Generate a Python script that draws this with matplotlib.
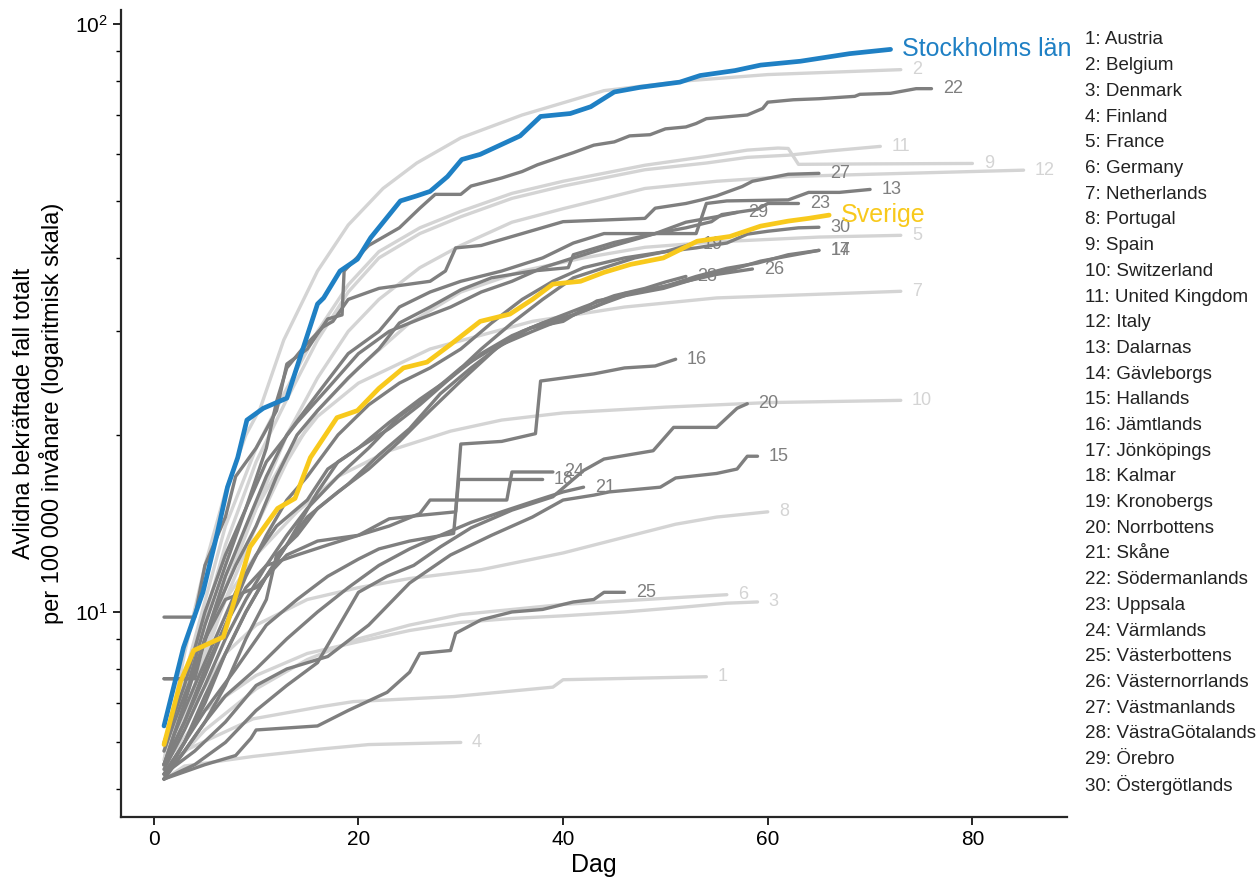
"""Avlidna per 100 000 invånare: länder och svenska län (log-skala)."""
import matplotlib
matplotlib.use("Agg")
import matplotlib.pyplot as plt
import numpy as np

# ---- data: (dag, avlidna per 100 000) ----
austria = [(1, 5.47), (3.3, 5.84), (6.5, 6.2), (9.7, 6.58), (16.3, 6.9), (19.5, 7.04), (29.3, 7.18),
           (39, 7.45), (40, 7.67), (54, 7.76)]
belgium = [(1, 5.6), (3, 8.5), (5, 12), (7, 16), (9, 20), (10.4, 22.2), (12.7, 29), (16, 38), (19, 45.5),
           (22.4, 52.5), (25.7, 58), (30, 64), (36, 70), (44, 77), (52, 80), (60, 82), (73, 83.6)]
denmark = [(1, 5.5), (5, 6.8), (10, 7.8), (15, 8.5), (20, 8.9), (25, 9.3), (30, 9.6), (35, 9.75), (40, 9.85),
           (46, 10.0), (52, 10.2), (56, 10.35), (59, 10.4)]
finland = [(1, 5.19), (3, 5.47), (9.7, 5.68), (16, 5.84), (21, 5.95), (30, 6.0)]
france = [(1, 5.4), (4, 7.5), (7, 10.5), (10, 14), (13, 18), (16, 22), (20, 26), (25, 31), (30, 35), (36, 38),
          (42, 40), (48, 41.7), (55, 42.6), (65, 43.4), (73, 43.7)]
germany = [(1, 5.3), (5, 6.3), (10, 7.4), (15, 8.3), (20, 9.0), (25, 9.5), (30, 9.9), (40, 10.3), (50, 10.55),
           (56, 10.7)]
netherlands = [(1, 5.5), (4, 8), (7, 11.5), (10, 15), (13, 18.5), (16, 21.5), (20, 24.5), (27, 28), (37, 31.2),
               (46, 33), (55, 34.2), (73, 35.1)]
portugal = [(1, 5.5), (4, 7), (7, 8.5), (10, 9.5), (15, 10.5), (20, 11.0), (25, 11.4), (32, 11.8), (40, 12.6),
            (46, 13.4), (51, 14.1), (55, 14.5), (60, 14.8)]
spain = [(1, 5.8), (4, 9), (7, 14), (10, 19), (13, 24), (16, 30), (19, 36), (22, 41), (26, 45), (30, 48),
         (35, 51.5), (40, 54), (48, 57.5), (54, 59.5), (58, 61), (61, 61.5), (62, 61.4), (63, 57.7), (70, 57.8),
         (80, 57.9)]
switzerland = [(1, 5.5), (4, 8), (7, 10.5), (10, 12.5), (14, 14.8), (18, 17), (23, 18.8), (29, 20.3),
               (34, 21.2), (40, 21.8), (50, 22.3), (60, 22.7), (73, 22.9)]
uk = [(1, 5.5), (4, 8.5), (7, 13), (10, 18), (13, 23), (16, 29), (19, 35), (22, 40), (26, 44), (30, 47),
      (35, 50.5), (40, 53), (48, 56.5), (54, 58), (58, 59.3), (62, 59.8), (66, 60.8), (71, 61.9)]
italy = [(1, 5.5), (4, 7.5), (7, 11), (10, 15), (13, 20), (16, 25), (19, 30), (22, 34), (26, 38.5), (30, 42),
         (35, 46), (40, 48.5), (48, 52.5), (55, 54), (62, 55), (70, 55.5), (85, 56.4)]

dalarna = [(1, 5.5), (3, 7), (5, 9), (7, 11.5), (9, 14), (11, 17), (13, 20), (16, 23.5), (19, 27.5), (22, 30),
           (24, 33), (27, 35), (30, 36.5), (34, 38), (38, 40), (41, 42.4), (44, 44), (53, 44), (54, 49.5),
           (56, 50), (62, 50.2), (64, 51.7), (67, 51.7), (70, 52.3)]
gavleborg = [(1, 5.2), (3, 6), (5, 7.2), (7, 8.5), (9, 10), (11, 11.5), (13, 13), (15, 14.5), (18, 16),
             (21, 17.5), (24, 19.5), (27, 22), (30, 24.7), (33.5, 28.1), (36.8, 30.4), (40, 31.2), (43.3, 33.8),
             (46, 34.5), (49.8, 35.5), (53, 36.9), (56, 38), (59.3, 39.5), (62, 40.3), (65, 41.2)]
halland = [(1, 5.3), (4, 5.8), (7, 6.5), (10, 7.5), (13, 8.0), (17, 8.4), (21, 9.5), (25, 11.2), (29, 12.5),
           (33, 13.5), (37, 14.5), (40, 15.5), (43, 15.8), (44.5, 16.0), (49.5, 16.3), (51, 16.9), (55, 17.2),
           (57, 17.5), (58, 18.4), (59, 18.4)]
jamtland = [(1, 7.7), (4, 7.7), (5, 9), (7, 10.5), (10, 11), (13, 12.5), (16, 13.2), (20, 13.5), (23, 14.4),
            (26, 14.6), (29.5, 14.8), (30, 19.3), (34, 19.5), (37.3, 20.1), (37.8, 24.7), (43, 25.4), (46, 26),
            (49, 26.2), (51, 26.9)]
jonkoping = [(1, 5.5), (2, 6.2), (4, 7.5), (6, 9), (8, 10.8), (10, 12.5), (12, 14), (15, 15.5), (17, 17.5),
             (20, 19), (23, 20.5), (26, 22.5), (29, 25), (32, 27.5), (35, 29.5), (38, 31), (41, 32), (44, 33.5),
             (47, 35), (50, 35.8), (53, 37.2), (56, 38.4), (59, 39.2), (62, 40.5), (65, 41.2)]
kalmar = [(1, 5.3), (3, 6), (5, 6.8), (8, 8), (11, 9.5), (14, 10.5), (17, 11.5), (20, 12.3), (22, 12.8),
          (25, 13.2), (29.3, 13.6), (29.8, 16.8), (38, 16.8)]
kronoberg = [(1, 5.3), (3, 6), (5, 7), (7, 8.5), (9, 10), (11, 11.5), (13, 13), (16, 16), (18, 18), (20, 19),
             (23, 21), (26, 23), (29, 25), (32, 28), (35, 31), (38, 34), (41, 37), (44, 38.5), (47, 40),
             (50, 41), (52.5, 42.2)]
norrbotten = [(1, 5.2), (4, 5.5), (7, 6), (10, 6.8), (13, 7.5), (16, 8.2), (20, 10.8), (22.8, 11.5),
              (25.4, 12), (28, 12.9), (31, 13.9), (35, 14.9), (39, 15.7), (42, 17.4), (44, 18.2), (48.8, 18.8),
              (50.8, 20.6), (55, 20.6), (57, 22.2), (58, 22.6)]
skane = [(1, 5.2), (3, 5.8), (5, 6.5), (7, 7.2), (10, 8), (13, 9), (16, 10), (19, 11), (22, 12), (25, 12.8),
         (28, 13.5), (31, 14.2), (34, 14.8), (37, 15.4), (40, 16), (42, 16.3)]
sodermanland = [(1, 9.8), (4, 9.8), (5, 12), (7, 14.5), (8, 17), (10, 19), (12, 22), (13, 26.4), (15, 28),
                (17, 31.5), (18.4, 32), (18.6, 38), (21, 42), (24, 45), (26, 48.6), (27.5, 51.3), (30, 51.3),
                (31, 53), (34, 54.7), (36, 56.1), (37.5, 57.6), (40, 59.6), (41, 60.4), (43, 62.2), (45, 63),
                (46.5, 64.5), (48.5, 64.8), (50, 66.3), (52, 66.8), (53, 67.7), (54, 69), (58, 70),
                (59.5, 71.8), (60, 73.6), (62.5, 74.3), (65, 74.6), (68.5, 75.3), (69, 75.9), (72, 76.2),
                (74.5, 77.6), (76, 77.6)]
uppsala = [(1, 6), (3, 7.5), (5, 10), (7, 12.5), (9, 15), (11, 18), (14, 21), (17, 24), (20, 27.5), (23, 30),
           (26, 31.5), (29, 33), (32, 35), (35, 36.5), (38, 38.5), (41, 40), (45, 42), (49, 44), (52, 45),
           (54.5, 46.1), (55.5, 47.4), (59, 48.4), (60, 49.5), (63, 49.5)]
varmland = [(1, 5.5), (3, 6.5), (5, 8), (7, 9.5), (9, 11), (11, 12), (14, 12.5), (17, 13), (20, 13.5),
            (23, 14), (26, 14.7), (27, 15.5), (34.5, 15.5), (35, 17.3), (39, 17.3)]
vasterbotten = [(1, 5.2), (5, 5.5), (8, 5.7), (9.5, 6.1), (10, 6.3), (16, 6.4), (19, 6.8), (22.8, 7.3),
                (25, 7.9), (26, 8.5), (29, 8.6), (29.5, 9.2), (32, 9.7), (35, 10), (38, 10.1), (41, 10.4),
                (43, 10.5), (44, 10.8), (46, 10.8)]
vasternorrland = [(1, 5.2), (3, 5.8), (5, 6.5), (7, 7.5), (9, 9), (11, 10.5), (12, 12.5), (14, 13.5),
                  (16, 15), (19, 16.5), (22, 18.5), (25, 20.5), (28, 23.5), (31, 26), (34, 28.5), (37, 30),
                  (40, 31.5), (43, 33), (46, 34.8), (49, 35.5), (52, 36.5), (55, 37.5), (58.5, 38.3)]
vastmanland = [(1, 7.7), (3.5, 7.7), (5, 9.5), (7, 12), (9, 15), (11, 19), (12, 22.8), (13, 26), (14.5, 28),
               (16.5, 30.5), (17.5, 31.2), (19, 34), (22, 35.5), (25, 36.1), (27, 36.5), (28.5, 38),
               (29.5, 41.6), (32, 42), (36, 44), (40, 46.1), (48, 46.7), (49, 48.6), (52, 49.5), (53.5, 50.2),
               (55, 51), (57.5, 52.9), (58.5, 54), (62, 55.5), (65, 55.7)]
vastra_gotaland = [(1, 5.4), (3, 6.3), (5, 7.5), (7, 9), (9, 10.5), (11, 12), (13, 13.5), (15, 15), (18, 17),
                   (21, 19), (24, 21.5), (27, 23.5), (30, 26), (33, 28), (36, 30), (39, 31.5), (42, 33),
                   (45, 34.5), (48, 35.5), (50, 36.4), (52, 37.2)]
orebro = [(1, 5.8), (2, 6.5), (4, 8), (6, 10), (8, 12), (10, 14), (12, 17), (14, 20), (16, 22), (19, 25),
          (22, 28), (24, 31), (27, 33), (30, 35.3), (33, 37), (37, 38), (40.5, 38.5), (41, 40.5), (45, 42.5),
          (49, 44), (52, 46), (55, 47), (57, 47.8)]
ostergotland = [(1, 5.5), (3, 6.5), (5, 7.8), (7, 9.5), (9, 11.5), (11, 13.5), (13, 15.5), (15, 17), (18, 20),
                (21, 22.5), (24, 24.5), (27, 26), (30, 28), (33, 31), (36, 34), (39, 36.5), (42, 38.5),
                (46, 40), (50, 41), (53, 41.6), (56, 42.4), (58, 43.9), (60, 44.4), (63, 45), (65, 45.1)]

stockholm = [(1, 6.4), (2.9, 8.7), (4.8, 10.8), (6.2, 13.6), (7.2, 16.3), (8.2, 18.3), (9.1, 21.2),
             (10.7, 22.2), (13, 23.1), (16, 33.4), (16.6, 34.2), (18.2, 38), (19.9, 39.8), (21.2, 43.3),
             (24.1, 50), (25.7, 51), (27, 51.9), (28.7, 55), (30.1, 58.8), (31.9, 60), (35.8, 64.5),
             (37.8, 69.6), (40.7, 70.4), (42.7, 72.3), (45, 76.6), (47.5, 78), (51.4, 79.6), (53.4, 81.7),
             (56.8, 83.3), (59.3, 85.1), (63.2, 86.4), (68, 89), (72, 90.5)]
sverige = [(1, 5.95), (2.6, 7.6), (3.9, 8.6), (6.8, 9.07), (7.8, 10.35), (9.4, 12.9), (12.1, 15.0),
           (13.8, 15.6), (15.3, 18.3), (17.9, 21.4), (19.9, 22), (22, 24), (24.4, 26.0), (26.7, 26.6),
           (29, 28.5), (31.9, 31.2), (34.8, 32.1), (37, 34), (39, 36.1), (41.7, 36.5), (44, 37.8),
           (46.6, 39.0), (49.8, 40), (53.1, 42.7), (56.3, 43.5), (59.3, 45.3), (62, 46.2), (64, 46.7),
           (66, 47.3)]

countries = [austria, belgium, denmark, finland, france, germany, netherlands, portugal, spain,
             switzerland, uk, italy]
regions = [dalarna, gavleborg, halland, jamtland, jonkoping, kalmar, kronoberg, norrbotten, skane,
           sodermanland, uppsala, varmland, vasterbotten, vasternorrland, vastmanland, vastra_gotaland,
           orebro, ostergotland]
names = ["Austria", "Belgium", "Denmark", "Finland", "France", "Germany", "Netherlands", "Portugal",
         "Spain", "Switzerland", "United Kingdom", "Italy", "Dalarnas", "Gävleborgs", "Hallands",
         "Jämtlands", "Jönköpings", "Kalmar", "Kronobergs", "Norrbottens", "Skåne", "Södermanlands",
         "Uppsala", "Värmlands", "Västerbottens", "Västernorrlands", "Västmanlands", "VästraGötalands",
         "Örebro", "Östergötlands"]

LIGHT = "#d4d4d4"
DARK = "#7f7f7f"
BLUE = "#1f80c4"
YELLOW = "#f8c91c"

plt.rcParams["font.family"] = ["Liberation Sans", "DejaVu Sans"]


def draw(ax, series, color, lw, label=None, size=13, z=2):
    d = np.array([p[0] for p in series])
    v = np.array([p[1] for p in series])
    ax.plot(d, v, color=color, lw=lw, solid_capstyle="round", solid_joinstyle="round", zorder=z)
    if label is not None:
        ax.text(d[-1] + 1.1, v[-1], label, color=color, fontsize=size, va="center", ha="left", zorder=z)


def main():
    fig = plt.figure(figsize=(12.57, 8.83), dpi=100)
    ax = fig.add_axes([0.0963, 0.0747, 0.7526, 0.914])

    for i, s in enumerate(countries):
        draw(ax, s, LIGHT, 2.4, str(i + 1), z=1)
    for i, s in enumerate(regions):
        draw(ax, s, DARK, 2.4, str(i + 13), z=2)
    draw(ax, stockholm, BLUE, 3.4, "Stockholms län", size=18, z=4)
    draw(ax, sverige, YELLOW, 3.4, "Sverige", size=18, z=4)

    ax.set_yscale("log")
    ax.set_xlim(-3.2, 89.25)
    ax.set_ylim(4.48, 105.6)
    ax.set_xticks([0, 20, 40, 60, 80])
    ax.tick_params(axis="both", which="major", labelsize=15, length=6, width=1.2, direction="out")
    ax.tick_params(axis="y", which="minor", length=3.5, width=1.0, direction="out")
    ax.set_xlabel("Dag", fontsize=18, labelpad=3)
    ax.set_ylabel("Avlidna bekräftade fall totalt\nper 100 000 invånare (logaritmisk skala)", fontsize=17,
                  labelpad=8)
    for side in ["top", "right"]:
        ax.spines[side].set_visible(False)
    for side in ["left", "bottom"]:
        ax.spines[side].set_linewidth(1.6)
        ax.spines[side].set_color("#262626")

    for i, n in enumerate(names):
        fig.text(0.863, 1 - (40 + 25.7 * i) / 883, f"{i + 1}: {n}", fontsize=13.5, va="center",
                 ha="left", color="#222222")

    fig.savefig("out.png", dpi=100)


if __name__ == "__main__":
    main()
